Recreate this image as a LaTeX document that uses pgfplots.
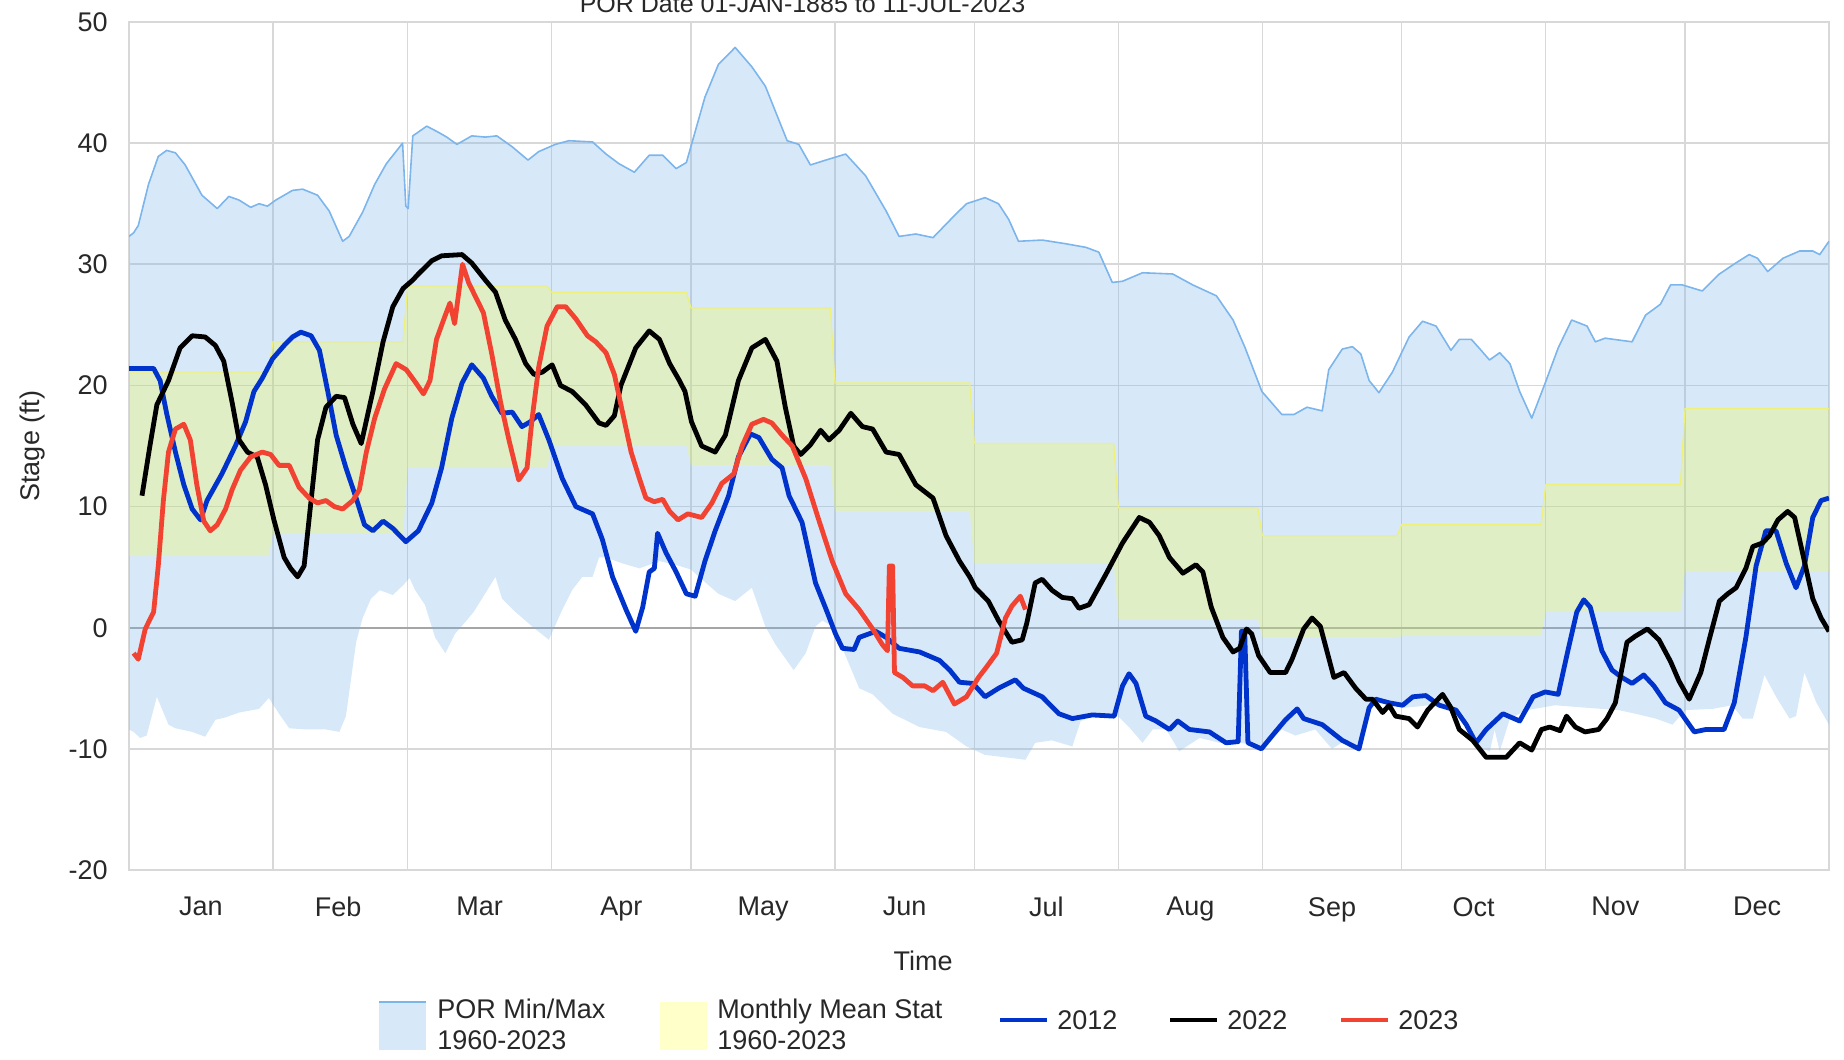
\documentclass[border=0pt]{standalone}
\usepackage{fontspec}
\setmainfont{Liberation Sans}
\usepackage{pgfplots}
\usepackage{pgfplotstable}
\pgfplotsset{compat=1.18}
\usepgfplotslibrary{fillbetween}

\definecolor{gridc}{RGB}{216,216,216}
\definecolor{zeroc}{RGB}{165,165,165}
\definecolor{porc}{RGB}{124,181,236}
\definecolor{meanc}{RGB}{250,255,40}
\definecolor{meanline}{RGB}{238,240,120}
\definecolor{c2012}{RGB}{0,51,204}
\definecolor{c2022}{RGB}{0,0,0}
\definecolor{c2023}{RGB}{242,66,50}
\definecolor{txt}{RGB}{40,40,40}

\pgfplotstableread{
x y
0 32.3
1 32.6
2 33.2
4.2 36.6
6.3 38.9
8.1 39.4
10 39.2
12.1 38.2
15.7 35.7
19 34.6
21.5 35.6
23.7 35.3
26.2 34.7
28 35.0
29.8 34.8
31.6 35.3
35.2 36.1
37.4 36.2
40.6 35.7
43.1 34.4
46 31.9
47.4 32.3
50.3 34.3
52.9 36.6
55.4 38.3
58.9 40.0
59.6 34.8
60.1 34.6
61.1 40.6
64.1 41.4
66.6 40.9
68.4 40.5
70.6 39.9
73.8 40.6
76.7 40.5
79.2 40.6
82.5 39.7
85.9 38.6
88.2 39.3
91.8 39.9
94.7 40.2
99.8 40.1
102.7 39.1
105.5 38.3
108.8 37.6
112 39.0
114.9 39.0
117.8 37.9
120 38.4
124 43.8
126.9 46.5
130.5 47.9
134.1 46.3
137 44.7
141.7 40.2
144.2 39.9
146.7 38.2
150 38.6
154.3 39.1
158.6 37.3
163 34.4
165.8 32.3
169.4 32.5
173.1 32.2
177.4 33.9
180.3 35.0
184.3 35.5
187.2 35.0
189.4 33.7
191.5 31.9
196.6 32.0
201.6 31.7
206 31.4
208.8 31.0
211.7 28.5
213.9 28.6
218.2 29.3
224.7 29.2
229 28.3
234.1 27.4
237.7 25.4
240.3 23.1
243.9 19.5
248.2 17.6
250.8 17.6
253.6 18.2
256.9 17.9
258.3 21.3
261.2 23.0
263.4 23.2
265.2 22.6
267 20.4
269.1 19.4
272 21.1
275.6 24.0
278.5 25.3
281.4 24.9
284.6 22.9
286.4 23.8
289 23.8
291.1 22.9
292.9 22.1
295.1 22.7
297.3 21.8
299.4 19.5
302 17.3
304.9 20.2
307.7 23.1
310.6 25.4
313.9 24.9
315.7 23.6
317.8 23.9
323.6 23.6
326.5 25.8
329.7 26.7
331.9 28.3
334.4 28.3
338.7 27.8
342.4 29.2
345.9 30.1
348.8 30.8
350.6 30.5
352.8 29.4
356.1 30.5
359.7 31.1
362.5 31.1
364 30.8
366 31.9
}\pormax

\pgfplotstableread{
x y
0 -8.4
1 -8.6
2.4 -9.1
3.8 -8.9
6 -5.7
8.5 -8.0
10 -8.3
13.6 -8.6
16.4 -9.0
18.6 -7.6
20.8 -7.4
23.7 -7.0
28 -6.7
30.1 -5.8
32.3 -7.1
34.5 -8.3
38.1 -8.4
42.4 -8.4
45.3 -8.6
46.7 -7.3
48.9 -1.2
50.3 0.8
52.1 2.4
54 3.1
56.8 2.7
59 3.5
60.4 4.1
61.6 3.1
63.7 1.9
65.9 -0.8
68.1 -2.1
70.2 -0.5
72.7 0.6
74.2 1.3
76 2.4
78.9 4.2
80.3 2.4
83.2 1.3
86.8 0.1
90.4 -1.0
93.3 1.5
95.4 3.1
97.6 4.2
99.8 4.2
101.2 5.8
102.7 5.8
106.3 5.3
109.9 4.9
114.2 5.5
118.5 5.1
121 4.8
123.3 4.0
126.9 2.8
130.5 2.2
134.1 3.3
137 0.1
139.2 -1.4
143.1 -3.5
145.7 -2.1
147.8 0.1
149.3 0.6
151.4 0.1
153.6 -1.7
157.2 -5.0
160.1 -5.5
164.4 -7.1
170.2 -8.2
175.9 -8.6
180.3 -9.8
184.3 -10.5
188.7 -10.7
193 -10.9
195.1 -9.5
198.7 -9.3
203.1 -9.8
204.9 -7.7
207.4 -7.3
210.3 -7.4
212.4 -7.1
215.3 -8.2
218.2 -9.5
220.4 -8.4
223.3 -8.4
226.1 -10.2
230.5 -9.1
234.8 -9.5
239.1 -9.5
244.6 -9.8
248.2 -8.4
251.1 -8.9
255.4 -8.4
259 -10
261.9 -9.3
265.2 -9.8
267.7 -5.9
271.3 -6.4
274.9 -6.6
280 -6.4
283.6 -6.7
286.4 -7.1
290 -9.8
293 -10.2
294 -8.4
295.1 -10.2
297.3 -7.5
300.9 -6.8
304.1 -6.6
307 -6.4
313.5 -6.6
320.7 -6.8
324.3 -7.1
328.7 -7.5
332.3 -8.0
335.1 -6.8
340.9 -6.7
345.2 -6.4
347.4 -7.5
349.6 -7.5
352.1 -3.9
354.6 -5.7
357.5 -7.5
358.9 -7.3
360.7 -3.7
363.3 -6.2
366 -8.0
}\pormin

\pgfplotstableread{
x y
0 21.1
30 21.1
31 23.6
59 23.6
60 28.2
90 28.2
91 27.7
120 27.7
121 26.4
151 26.4
152 20.2
181 20.2
182 15.2
212 15.2
213 9.9
243 9.9
244 7.6
273 7.6
274 8.5
304 8.5
305 11.8
334 11.8
335 18.1
366 18.1
}\meantop

\pgfplotstableread{
x y
0 5.9
30 5.9
31 7.8
59 7.8
60 13.2
90 13.2
91 15.0
120 15.0
121 13.4
151 13.4
152 9.6
181 9.6
182 5.3
212 5.3
213 0.7
243 0.7
244 -0.8
273 -0.8
274 -0.7
304 -0.7
305 1.3
334 1.3
335 4.7
366 4.7
}\meanbot

\pgfplotstableread{
x y
0 21.4
5.3 21.4
6.7 20.4
8.1 17.7
10 14.5
11.8 11.8
13.6 9.8
15.4 8.9
16.8 10.5
20 12.7
22.9 15.0
25.1 17.0
26.9 19.5
28.7 20.6
30.9 22.2
33.4 23.3
35.2 24.0
37 24.4
39.2 24.1
41 22.9
42.8 19.5
44.6 15.9
46.7 13.2
48.9 10.7
50.7 8.5
52.5 8.0
54.7 8.8
56.8 8.2
59.6 7.1
62.3 8.0
65.2 10.3
67.3 13.2
69.5 17.3
71.7 20.2
73.8 21.7
76.3 20.6
78.1 19.1
80.3 17.7
82.5 17.8
84.6 16.6
86.4 17.0
88.2 17.6
90.4 15.5
93.3 12.3
96.2 10.0
99.8 9.4
101.9 7.3
104.1 4.2
107 1.5
109.1 -0.3
110.6 1.7
112 4.6
113.1 4.9
113.8 7.8
115.6 6.2
117.8 4.6
120 2.8
121.9 2.6
124 5.5
126.2 8.0
129.1 10.9
131.2 14.1
133.8 16.0
135.6 15.7
138.4 13.9
140.6 13.2
142.1 10.9
144.9 8.7
147.8 3.7
150.3 1.3
152.1 -0.5
153.6 -1.7
156.1 -1.8
157.2 -0.8
160.8 -0.3
163 -0.8
165.8 -1.7
170.2 -2.0
174.5 -2.7
176.7 -3.5
178.8 -4.5
181.7 -4.6
184.3 -5.7
187.2 -5.0
190.8 -4.3
192.6 -5.0
196.6 -5.7
200.2 -7.1
203.1 -7.5
207.4 -7.2
212.1 -7.3
213.9 -4.8
215.3 -3.8
216.8 -4.6
218.9 -7.3
221.1 -7.7
224 -8.4
225.8 -7.7
228.3 -8.4
232.6 -8.6
236.2 -9.5
238.8 -9.4
239.5 -0.3
240.2 -0.3
240.9 -9.5
243.8 -10.0
246.8 -8.6
249 -7.6
251.5 -6.7
252.9 -7.5
256.9 -8.0
261.2 -9.3
264.8 -10.0
267 -6.6
268.4 -5.9
271.3 -6.2
274.2 -6.4
276.4 -5.7
279.2 -5.6
282.1 -6.4
285.7 -6.8
287.9 -8.0
290 -9.5
292.2 -8.4
295.8 -7.1
299.4 -7.7
302.3 -5.7
304.9 -5.3
307.7 -5.5
309.9 -1.7
311.7 1.3
313.2 2.3
314.6 1.7
317.1 -1.9
319.3 -3.5
321.4 -4.1
323.6 -4.6
326.1 -3.9
328.3 -4.8
330.8 -6.2
333.7 -6.8
337 -8.6
339.5 -8.4
343.4 -8.4
345.6 -6.2
348.1 -0.8
350.3 5.1
352.4 8.0
354.6 8.0
356.8 5.3
358.9 3.3
360.7 5.1
362.5 9.1
364.3 10.5
366 10.7
}\yrA

\pgfplotstableread{
x y
2.8 10.9
4.5 15.0
6 18.4
8.5 20.4
11 23.1
13.6 24.1
16.4 24.0
18.6 23.3
20.4 22.0
22.2 18.6
23.7 15.5
25.5 14.5
27.6 14.1
29.4 11.8
31.2 8.9
33.4 5.8
34.8 4.9
36.3 4.2
37.7 5.1
39.2 10.5
40.6 15.5
42.4 18.2
44.6 19.1
46.4 19.0
48.2 16.8
50 15.2
52.5 19.5
54.7 23.6
56.8 26.5
59 28.0
61.1 28.7
62.3 29.2
65.2 30.3
67.3 30.7
71.7 30.8
73.8 30.1
76.7 28.7
78.9 27.7
81 25.4
83.2 23.8
85.4 21.8
87.2 20.9
89 21.1
91.1 21.7
92.9 20.0
95.4 19.5
98.3 18.4
101.2 16.9
102.7 16.7
104.5 17.5
105.9 20.0
109.1 23.1
112 24.5
114.2 23.8
116.4 21.8
118.5 20.4
119.7 19.5
121.1 17.0
123.3 15.0
126.2 14.5
128.4 15.9
131.2 20.4
134.1 23.1
137 23.8
139.5 22.0
141.3 18.2
143.1 15.0
144.6 14.3
146.7 15.1
148.9 16.3
150.7 15.5
152.9 16.3
155.4 17.7
157.9 16.6
160.1 16.4
163 14.5
165.8 14.3
169.4 11.8
173.1 10.7
175.9 7.6
178.8 5.5
181 4.2
182.2 3.3
185 2.2
187.2 0.6
190.1 -1.2
192.3 -1.0
193.3 0.4
195.1 3.7
196.6 4.0
198.7 3.1
200.9 2.5
203.1 2.4
204.5 1.6
206.7 1.9
210.3 4.4
213.9 7.0
217.5 9.1
219.7 8.7
221.8 7.6
224 5.8
226.9 4.5
229.7 5.2
231.2 4.6
233 1.7
235.5 -0.8
237.7 -2.0
239.1 -1.7
240.6 -0.1
241.7 -0.5
243.2 -2.3
245.7 -3.7
249 -3.7
250.4 -2.6
252.9 -0.1
254.7 0.8
256.5 0.1
259.4 -4.1
261.6 -3.7
264.1 -5.0
266.3 -5.9
267.7 -5.9
269.9 -7.0
271.3 -6.4
272.7 -7.3
275.6 -7.5
277.4 -8.2
279.6 -6.8
282.8 -5.5
284.6 -6.6
286.4 -8.4
289.3 -9.3
292.2 -10.7
296.5 -10.7
299.4 -9.5
302 -10.1
304.1 -8.4
305.9 -8.2
308.1 -8.5
309.5 -7.3
311.4 -8.2
313.5 -8.6
316.4 -8.4
318.2 -7.5
320 -6.2
322.5 -1.2
324.3 -0.7
326.9 -0.1
329.4 -1.0
331.9 -2.8
333.7 -4.4
335.9 -5.9
338.4 -3.7
340.2 -1.0
342.4 2.2
344.2 2.8
346 3.3
348.1 4.9
349.6 6.7
351.7 7.0
353.2 7.6
355 8.9
357.1 9.6
358.6 9.1
360.4 6.0
362.5 2.4
364.3 0.8
366 -0.3
}\yrB

\pgfplotstableread{
x y
1 -2.1
2 -2.6
3.5 -0.1
5.3 1.3
6.3 5.1
7.4 10.5
8.5 14.5
10 16.4
11.8 16.8
13.2 15.5
14.6 11.8
16.1 8.8
17.5 8.0
19 8.5
20.8 9.8
22.2 11.4
24 13.0
26.2 14.1
28.7 14.5
30.5 14.3
32.3 13.4
34.5 13.4
36.6 11.6
38.8 10.7
40.6 10.3
42.4 10.5
44.2 10.0
46 9.8
48.2 10.5
49.6 11.4
51.1 14.5
52.9 17.3
55 19.7
57.5 21.8
59.7 21.3
61.6 20.3
63.4 19.3
64.8 20.4
66.2 23.8
68.1 25.8
69.1 26.8
70.1 25.1
70.9 27.4
71.8 30.0
73.1 28.5
74.5 27.4
76.3 26.0
78.1 22.6
80 18.6
81.8 15.5
83.9 12.2
85.7 13.2
86.8 17.3
88.2 21.5
90 24.9
92.2 26.5
94 26.5
96.2 25.5
98.7 24.1
100.5 23.6
102.7 22.7
104.5 20.9
106.3 17.7
108.1 14.5
109.9 12.3
111.3 10.7
113.1 10.4
114.9 10.6
116.4 9.6
118.2 8.9
120.3 9.4
123.3 9.1
125.5 10.3
127.6 11.9
130.2 12.7
132 15.0
134.1 16.8
136.6 17.2
138.4 16.9
140.6 15.9
142.8 15.0
145.7 12.3
148.5 8.9
151.4 5.5
154.3 2.8
157.2 1.5
160.1 -0.1
162.2 -1.4
163.3 -1.9
163.7 5.1
164.4 5.1
164.8 -3.7
166.6 -4.1
168.7 -4.8
171.3 -4.8
173.1 -5.2
175.2 -4.5
177.7 -6.3
180.3 -5.7
182.9 -4.1
184.7 -3.2
186.8 -2.1
188.7 0.8
190.1 1.8
191.9 2.6
193 1.5
}\yrC

\begin{document}
\begin{tikzpicture}[x=1pt,y=1pt]
\begin{axis}[
  at={(64.5pt,-435pt)}, anchor=south west,
  scale only axis, width=850pt, height=424pt,
  xmin=0, xmax=366, ymin=-20, ymax=50,
  xtick={15.5,45,75.5,106,136.5,167,197.5,228.5,259,289.5,320,350.5},
  xticklabels={Jan,Feb,Mar,Apr,May,Jun,Jul,Aug,Sep,Oct,Nov,Dec},
  minor xtick={0,31,60,91,121,152,182,213,244,274,305,335,366},
  ytick={-20,-10,0,10,20,30,40,50},
  extra y ticks={0},
  extra y tick labels={},
  extra y tick style={major grid style={draw=zeroc, line width=0.8pt}},
  xminorgrids=true, xmajorgrids=false, ymajorgrids=true,
  grid style={draw=gridc, line width=0.8pt},
  minor grid style={draw=gridc, line width=0.8pt},
  axis line style={draw=gridc, line width=0.8pt},
  major tick length=0pt, minor tick length=0pt,
  tick style={draw=none},
  /pgf/number format/assume math mode=true,
  every tick label/.append style={font=\fontsize{13.5}{16}\selectfont, text=txt},
  xticklabel style={anchor=north, inner sep=0pt, yshift=-13.5pt},
  yticklabel style={anchor=east, inner sep=0pt, xshift=-10.5pt},
  xlabel={Time},
  ylabel={Stage (ft)},
  xlabel style={at={(axis description cs:0.4671,-0.119)}, anchor=base, inner sep=0pt, font=\fontsize{13.5}{16}\selectfont, text=txt},
  ylabel style={at={(axis description cs:-0.0565,0.5)}, anchor=center, inner sep=0pt, font=\fontsize{13.5}{16}\selectfont, text=txt},
  clip=true,
]
\addplot[name path=pmax, draw=none, forget plot] table {\pormax};
\addplot[name path=pmin, draw=none, forget plot] table {\pormin};
\addplot[fill=porc, fill opacity=0.3, draw=none] fill between[of=pmax and pmin];
\addplot[draw=porc, line width=0.8pt, line join=round] table {\pormax};

\addplot[name path=mtop, draw=none, forget plot] table {\meantop};
\addplot[name path=mbot, draw=none, forget plot] table {\meanbot};
\addplot[fill=meanc, fill opacity=0.25, draw=none] fill between[of=mtop and mbot];
\addplot[draw=meanline, line width=0.6pt] table {\meantop};

\addplot[draw=c2012, line width=2.4pt, line join=round] table {\yrA};
\addplot[draw=c2022, line width=2.4pt, line join=round] table {\yrB};
\addplot[draw=c2023, line width=2.4pt, line join=round] table {\yrC};
\end{axis}

% title (partly cut by the page edge, as in the reference)
\node[anchor=base, font=\fontsize{12.5}{15}\selectfont, text=txt, inner sep=0pt] at (401.3pt,-6pt) {POR Date 01-JAN-1885 to 11-JUL-2023};

% legend
\fill[porc, fill opacity=0.3] (189.5pt,-501pt) rectangle (213pt,-525pt);
\draw[porc, line width=1pt] (189.5pt,-501pt) -- (213pt,-501pt);
\node[anchor=west, align=left, inner sep=0pt, font=\fontsize{13.5}{15.5}\selectfont, text=txt] at (218.5pt,-512.3pt) {POR Min/Max\\1960-2023};

\fill[meanc, fill opacity=0.25] (330pt,-501pt) rectangle (353.5pt,-525pt);
\node[anchor=west, align=left, inner sep=0pt, font=\fontsize{13.5}{15.5}\selectfont, text=txt] at (358.5pt,-512.3pt) {Monthly Mean Stat\\1960-2023};

\draw[c2012, line width=2.4pt] (500pt,-510pt) -- (523.5pt,-510pt);
\node[anchor=west, inner sep=0pt, font=\fontsize{13.5}{16}\selectfont, text=txt] at (528.5pt,-510pt) {2012};
\draw[c2022, line width=2.4pt] (585pt,-510pt) -- (608.5pt,-510pt);
\node[anchor=west, inner sep=0pt, font=\fontsize{13.5}{16}\selectfont, text=txt] at (613.5pt,-510pt) {2022};
\draw[c2023, line width=2.4pt] (670.5pt,-510pt) -- (694pt,-510pt);
\node[anchor=west, inner sep=0pt, font=\fontsize{13.5}{16}\selectfont, text=txt] at (699pt,-510pt) {2023};

\pgfresetboundingbox
\path[use as bounding box] (0pt,-530pt) rectangle (922pt,0pt);
\end{tikzpicture}
\end{document}
